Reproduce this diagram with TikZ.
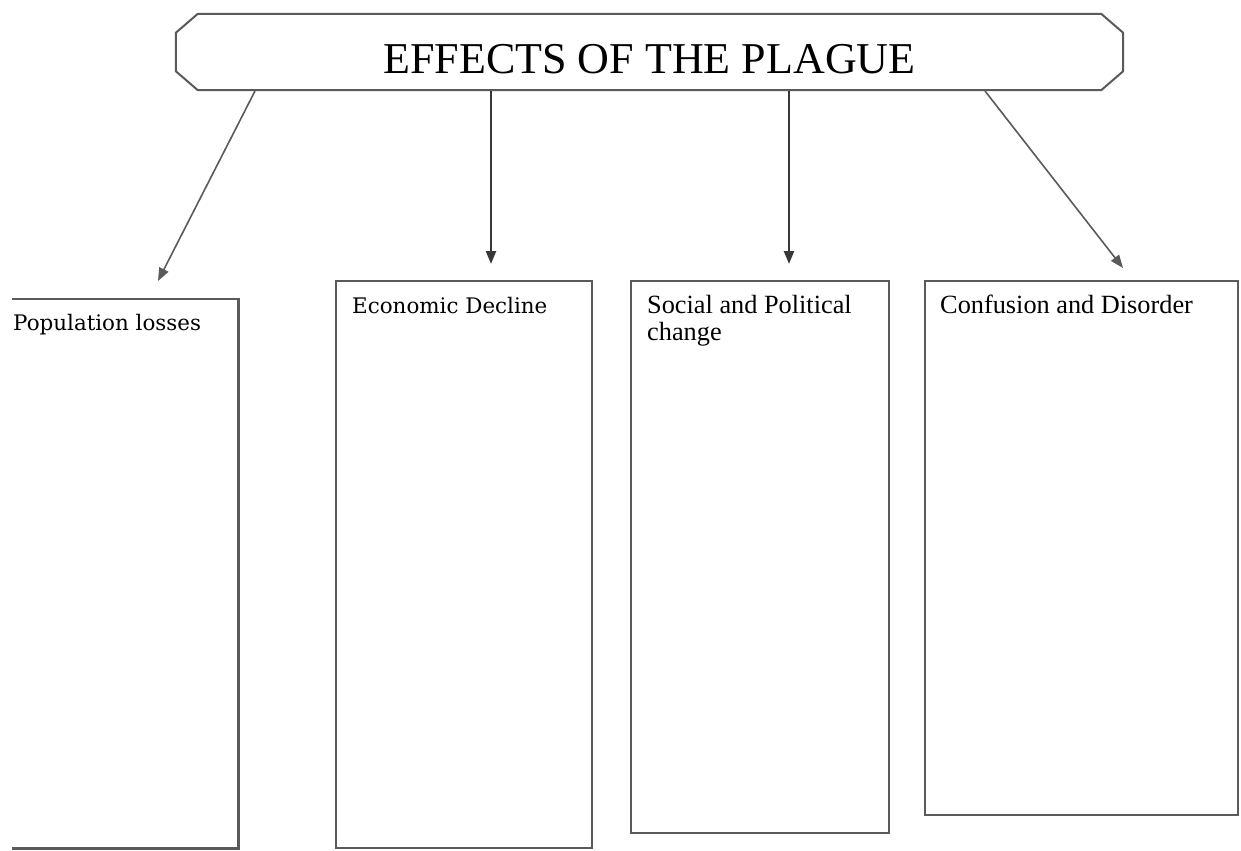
\documentclass[tikz,border=0pt]{standalone}
\usepackage{fontspec}
\setmainfont{Liberation Serif}
\newfontfamily\slabfont{DejaVu Serif}
\usetikzlibrary{arrows.meta,calc}

\definecolor{boxline}{HTML}{5A5A5A}
\definecolor{arrowline}{HTML}{383838}

\tikzset{
  headbox/.style={minimum width=947bp, minimum height=76bp,
    inner sep=0pt, text height=42bp, text depth=0pt,
    font=\fontsize{44.2}{50}\selectfont},
  headline/.style={draw=boxline, line width=2bp, line join=round},
  effectbox/.style={draw=boxline, line width=2.6bp, inner sep=0pt},
  openbox/.style={inner sep=0pt},
  boxlabel/.style={anchor=base west, inner sep=0pt, align=left,
    font=\fontsize{26.4}{27}\selectfont},
  slablabel/.style={boxlabel, font=\slabfont\fontsize{21.5}{24}\selectfont},
  arr/.style={draw=arrowline, line width=2.4bp,
    -{Triangle[length=13bp, width=10bp]}},
  arrthin/.style={arr, draw=boxline, line width=1.6bp}
}

\begin{document}
\begin{tikzpicture}[x=1bp, y=-1bp]
  \useasboundingbox (0,0) rectangle (1241,851);

  % heading with chamfered corners
  \node[headbox] (title) at (649.5,52) {EFFECTS OF THE PLAGUE};
  \draw[headline]
    ($(title.north west)+(22,0)$) -- ($(title.north east)+(-22,0)$)
    -- ($(title.north east)+(0,19)$) -- ($(title.south east)+(0,-19)$)
    -- ($(title.south east)+(-22,0)$) -- ($(title.south west)+(22,0)$)
    -- ($(title.south west)+(0,-19)$) -- ($(title.north west)+(0,19)$)
    -- cycle;

  % the four effect boxes
  \node[openbox, minimum width=226bp, minimum height=549bp] (box1) at (125,573.5) {};
  \draw[boxline, line width=2.6bp]
    (box1.north west) -- (box1.north east) -- (box1.south east) -- (box1.south west);
  \node[effectbox, minimum width=256bp, minimum height=567bp] (box2) at (464,564.5) {};
  \node[effectbox, minimum width=258bp, minimum height=552bp] (box3) at (760,557) {};
  \node[effectbox, minimum width=313bp, minimum height=534bp] (box4) at (1081.5,548) {};

  % box headings
  \node[slablabel] (lab1) at (13,330) {Population losses};
  \node[slablabel] (lab2) at (352,313) {Economic Decline};
  \node[boxlabel]  (lab3) at (647,340) {Social and Political\\change};
  \node[boxlabel]  (lab4) at (940,313) {Confusion and Disorder};

  % arrow ends
  \coordinate (s1) at (255,91);
  \coordinate (s2) at (491,91);
  \coordinate (s3) at (789,91);
  \coordinate (s4) at (985,91);
  \coordinate (t1) at (158,281);
  \coordinate (t2) at (491,264);
  \coordinate (t3) at (789,264);
  \coordinate (t4) at (1123,268);

  \draw[arrthin] (s1) -- (t1);
  \draw[arr]     (s2) -- (t2);
  \draw[arr]     (s3) -- (t3);
  \draw[arrthin] (s4) -- (t4);
\end{tikzpicture}
\end{document}
